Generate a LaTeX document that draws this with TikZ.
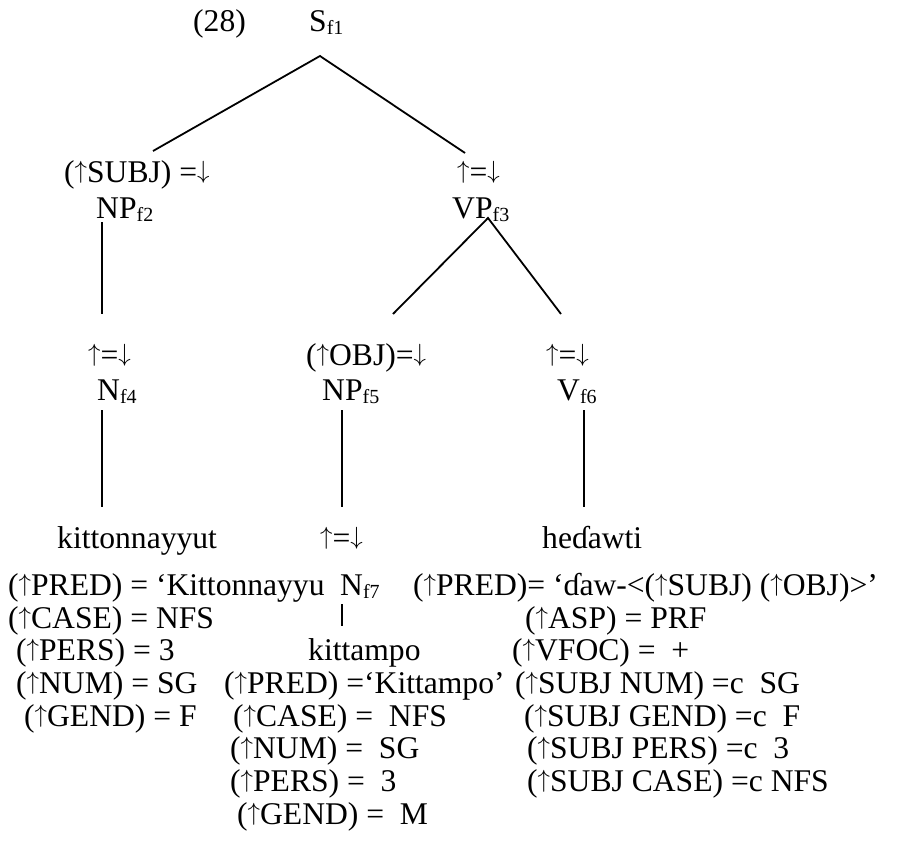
\documentclass[tikz,border=0pt]{standalone}
\usepackage{fontspec}
\setmainfont{Liberation Serif}
% lowered, smaller index for f-structure labels
\newcommand\fidx[1]{\raisebox{-3pt}{\fontsize{20}{20}\selectfont #1}}
% tall metavariable arrows
\newcommand\ua{\raisebox{0.1em}{$\uparrow$}}
\newcommand\da{\raisebox{0.1em}{$\downarrow$}}
\begin{document}
\begin{tikzpicture}[x=1pt,y=-1pt,
  txt/.style={inner sep=0pt, anchor=base west, font=\fontsize{31.6}{33}\selectfont},
  edge/.style={line width=1.8pt}]
\useasboundingbox (0,0) rectangle (897,867);

% --- top of the tree
\node[txt] (exnum) at (193,32) {(28)};
\node[txt] (s1) at (309,32) {S\fidx{f1}};

\node[txt] (subjann) at (64,182) {(\ua SUBJ) =\da};
\node[txt] (np2) at (96,218) {NP\fidx{f2}};
\node[txt] (vpann) at (457,182) {\ua=\da};
\node[txt] (vp3) at (452,218) {VP\fidx{f3}};

\node[txt] (n4ann) at (88,365) {\ua=\da};
\node[txt] (n4) at (97,400) {N\fidx{f4}};
\node[txt] (objann) at (306,365) {(\ua OBJ)=\da};
\node[txt] (np5) at (322,400) {NP\fidx{f5}};
\node[txt] (v6ann) at (546,365) {\ua=\da};
\node[txt] (v6) at (557,400) {V\fidx{f6}};

\node[txt] (w1) at (57,548) {kittonnayyut};
\node[txt] (n7ann) at (320,548) {\ua=\da};
\node[txt] (w3) at (542,548) {heɗawti};

% --- lexical entries
\node[txt] (a1) at (8,595) {(\ua PRED) = ‘Kittonnayyu};
\node[txt] (n7) at (340,595) {N\fidx{f7}};
\node[txt] (a2) at (8,628) {(\ua CASE) = NFS};
\node[txt] (a3) at (16,660) {(\ua PERS) = 3};
\node[txt] (a4) at (16,693) {(\ua NUM) = SG};
\node[txt] (a5) at (24,726) {(\ua GEND) = F};

\node[txt] (w2) at (308,660) {kittampo};
\node[txt] (b1) at (224,693) {(\ua PRED) =‘Kittampo’};
\node[txt] (b2) at (233,726) {(\ua CASE) =\ \ NFS};
\node[txt] (b3) at (230,758) {(\ua NUM) =\ \ SG};
\node[txt] (b4) at (230,791) {(\ua PERS) =\ \ 3};
\node[txt] (b5) at (237,824) {(\ua GEND) =\ \ M};

\node[txt] (c1) at (413,595) {(\ua PRED)= ‘ɗaw-<(\ua SUBJ) (\ua OBJ)>’};
\node[txt] (c2) at (525,628) {(\ua ASP) = PRF};
\node[txt] (c3) at (512,660) {(\ua VFOC) =\ \ +};
\node[txt] (c4) at (515,693) {(\ua SUBJ NUM) =c\ \ SG};
\node[txt] (c5) at (524,726) {(\ua SUBJ GEND) =c\ \ F};
\node[txt] (c6) at (527,758) {(\ua SUBJ PERS) =c\ \ 3};
\node[txt] (c7) at (527,791) {(\ua SUBJ CASE) =c NFS};

% --- branch end points
\coordinate (s1bot) at (320,56);
\coordinate (subjtop) at (153,151);
\coordinate (vpanntop) at (465,153);
\coordinate (np2bot) at (102,222);
\coordinate (n4anntop) at (102,314);
\coordinate (vp3bot) at (488,218);
\coordinate (objtop) at (393,314);
\coordinate (v6top) at (561,314);
\coordinate (n4bot) at (102,410);
\coordinate (w1top) at (102,507);
\coordinate (np5bot) at (342,410);
\coordinate (n7anntop) at (342,507);
\coordinate (v6bot) at (584,410);
\coordinate (w3top) at (584,507);
\coordinate (n7bot) at (342,604);
\coordinate (w2top) at (342,626);

\draw[edge] (subjtop) -- (s1bot) -- (vpanntop);
\draw[edge] (np2bot) -- (n4anntop);
\draw[edge] (objtop) -- (vp3bot) -- (v6top);
\draw[edge] (n4bot) -- (w1top);
\draw[edge] (np5bot) -- (n7anntop);
\draw[edge] (v6bot) -- (w3top);
\draw[edge] (n7bot) -- (w2top);
\end{tikzpicture}
\end{document}
